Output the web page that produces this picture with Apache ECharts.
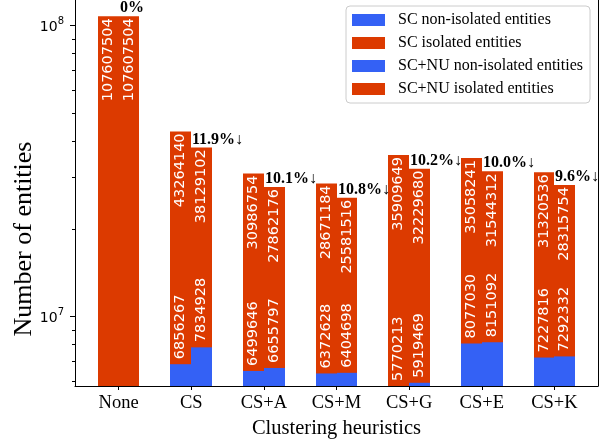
<!DOCTYPE html>
<html>
<head>
<meta charset="utf-8">
<script src="https://cdn.jsdelivr.net/npm/echarts@6/dist/echarts.min.js"></script>
<style>
  html, body { margin: 0; padding: 0; background: #ffffff; }
  #chart { width: 611px; height: 444px; }
</style>
</head>
<body>
<div id="chart"></div>
<script>
// Entity counts per clustering heuristic
const categories = ['None', 'CS', 'CS+A', 'CS+M', 'CS+G', 'CS+E', 'CS+K'];
const scIsolated = [107607504, 43264140, 30986754, 28671184, 35909649, 35058241, 31320536];
const scNonIsolated = [0, 6856267, 6499646, 6372628, 5770213, 8077030, 7227816];
const scnuIsolated = [107607504, 38129102, 27862176, 25581516, 32229680, 31544312, 28315754];
const scnuNonIsolated = [0, 7834928, 6655797, 6404698, 5919469, 8151092, 7292332];
// Reduction of SC+NU relative to SC
const reductionLabels = ['0%', '11.9%\u2193', '10.1%\u2193', '10.8%\u2193', '10.2%\u2193', '10.0%\u2193', '9.6%\u2193'];
// Log-axis ticks
const majorTicks = [1e7, 1e8];
const minorTicks = [6e6, 7e6, 8e6, 9e6, 2e7, 3e7, 4e7, 5e7, 6e7, 7e7, 8e7, 9e7];

const Y_MIN = 5770213;
const Y_MAX = 1.224e8;
const BLUE = '#3461f5';
const RED = '#dc3a00';
const BAR_W = 0.287;            // bar width in category units
const SERIF = '"Liberation Serif", "Times New Roman", serif';
const SANS = '"DejaVu Sans", sans-serif';

function barSeries(name, values, color, side, kind, z) {
  return {
    name: name,
    type: 'custom',
    coordinateSystem: 'cartesian2d',
    yAxisIndex: 0,
    z: z,
    itemStyle: { color: color },
    encode: { x: 0, y: 1 },
    data: values.map(function (v, i) { return [i, v]; }),
    renderItem: function (params, api) {
      const i = api.value(0);
      const v = api.value(1);
      if (!(v > 0)) return null;
      const cs = params.coordSys;
      // snap bar edges to whole pixels so neighbouring bars meet without a seam
      const x0 = Math.round(api.coord([i + (side < 0 ? -BAR_W : 0), v])[0]);
      const x1 = Math.round(api.coord([i + (side < 0 ? 0 : BAR_W), v])[0]);
      const cx = (x0 + x1) / 2;
      const topY = api.coord([i, v])[1];
      const baseY = cs.y + cs.height;
      const children = [{
        type: 'rect',
        shape: { x: x0, y: topY, width: x1 - x0, height: baseY - topY },
        style: { fill: color }
      }];
      const font = '14.5px ' + SANS;
      if (kind === 'iso') {
        children.push({
          type: 'text', x: cx, y: topY + 2, rotation: Math.PI / 2, z2: 10,
          style: { text: String(v), fill: '#ffffff', font: font, align: 'right', verticalAlign: 'middle' }
        });
      } else {
        children.push({
          type: 'text', x: cx, y: topY - 5, rotation: Math.PI / 2, z2: 10,
          style: { text: String(v), fill: '#ffffff', font: font, align: 'left', verticalAlign: 'middle' }
        });
      }
      if (kind === 'iso' && side > 0) {
        children.push({
          type: 'text', x: x0 + 1, y: topY, z2: 10,
          style: { text: reductionLabels[i], fill: '#000000', font: 'bold 16px ' + SERIF, align: 'left', verticalAlign: 'bottom' }
        });
      }
      return { type: 'group', children: children };
    }
  };
}

const chart = echarts.init(document.getElementById('chart'), null, { renderer: 'canvas' });

function logAxis(extra) {
  return Object.assign({
    type: 'log',
    min: Y_MIN,
    max: Y_MAX,
    splitLine: { show: false }
  }, extra);
}

chart.setOption({
  animation: false,
  backgroundColor: '#ffffff',
  grid: { left: 75, right: 13, top: 0, bottom: 56, containLabel: false },
  legend: {
    data: ['SC non-isolated entities', 'SC isolated entities', 'SC+NU non-isolated entities', 'SC+NU isolated entities'],
    orient: 'vertical',
    left: 346,
    top: 6,
    padding: [6, 7, 6, 6],
    icon: 'rect',
    itemWidth: 33,
    itemHeight: 12,
    itemGap: 7,
    backgroundColor: '#ffffff',
    borderColor: '#cccccc',
    borderWidth: 1,
    borderRadius: 4,
    selectedMode: false,
    textStyle: { fontFamily: SERIF, fontSize: 16, color: '#000000', lineHeight: 16, padding: [0, 0, 0, 8] }
  },
  xAxis: {
    type: 'value',
    min: -0.6,
    max: 6.6,
    splitLine: { show: false },
    axisLine: { show: true, onZero: false, lineStyle: { color: '#000000', width: 1 } },
    axisTick: { show: true, customValues: categories.map(function (c, i) { return i; }), length: 4, lineStyle: { color: '#000000' } },
    axisLabel: {
      customValues: categories.map(function (c, i) { return i; }),
      formatter: function (v) { return categories[Math.round(v)]; },
      fontFamily: SERIF, fontSize: 18.5, color: '#000000', margin: 8
    },
    name: 'Clustering heuristics',
    nameLocation: 'middle',
    nameGap: 32,
    nameTextStyle: { fontFamily: SERIF, fontSize: 20.5, color: '#000000' }
  },
  yAxis: [
    logAxis({
      position: 'left',
      axisLine: { show: true, onZero: false, lineStyle: { color: '#000000', width: 1 } },
      axisTick: { show: true, customValues: majorTicks, length: 5, lineStyle: { color: '#000000' } },
      axisLabel: {
        customValues: majorTicks,
        margin: 11,
        formatter: function (v) { return '{b|10}{s|' + Math.round(Math.log10(v)) + '}'; },
        rich: {
          b: { fontFamily: SANS, fontSize: 14, color: '#000000', lineHeight: 18, verticalAlign: 'bottom' },
          s: { fontFamily: SANS, fontSize: 10, color: '#000000', lineHeight: 18, verticalAlign: 'top' }
        }
      }
    }),
    logAxis({
      position: 'left',
      axisLine: { show: false, onZero: false },
      axisTick: { show: true, customValues: minorTicks, length: 3, lineStyle: { color: '#000000' } },
      axisLabel: { show: false }
    }),
    logAxis({
      position: 'right',
      axisLine: { show: true, onZero: false, lineStyle: { color: '#000000', width: 1 } },
      axisTick: { show: false },
      axisLabel: { show: false }
    })
  ],
  graphic: [{
    type: 'text',
    x: 24,
    y: 239,
    rotation: Math.PI / 2,
    style: { text: 'Number of entities', font: '26px ' + SERIF, fill: '#000000', align: 'center', verticalAlign: 'middle' }
  }],
  series: [
    barSeries('SC isolated entities', scIsolated, RED, -1, 'iso', 2),
    barSeries('SC+NU isolated entities', scnuIsolated, RED, 1, 'iso', 2),
    barSeries('SC non-isolated entities', scNonIsolated, BLUE, -1, 'non', 3),
    barSeries('SC+NU non-isolated entities', scnuNonIsolated, BLUE, 1, 'non', 3)
  ]
});
</script>
</body>
</html>
